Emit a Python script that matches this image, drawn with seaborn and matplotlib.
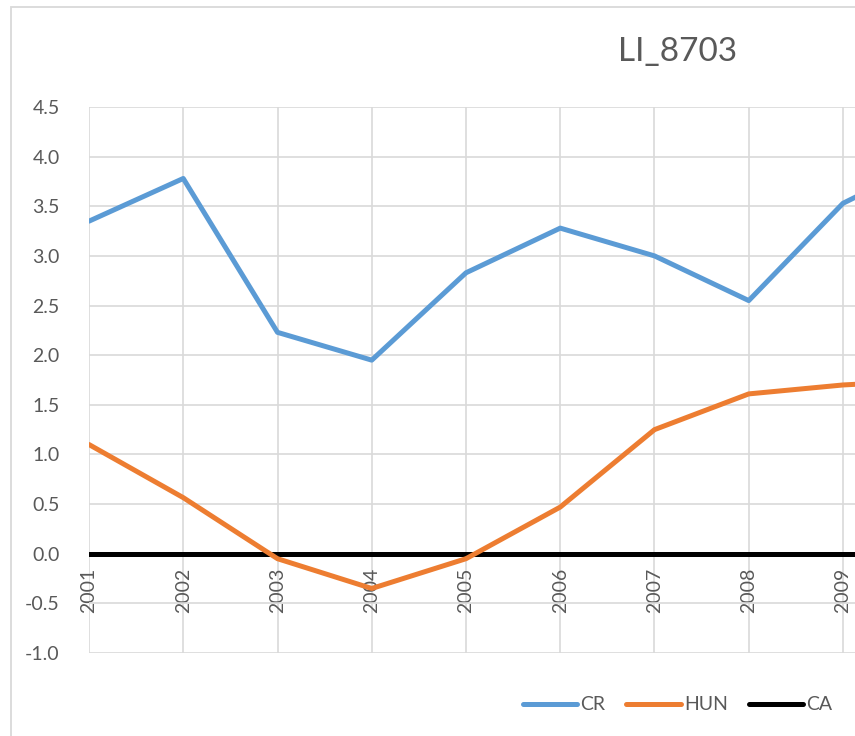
import numpy as np
import pandas as pd
import matplotlib
matplotlib.use("Agg")
import matplotlib.pyplot as plt
import matplotlib.patches as mpatches
from matplotlib.lines import Line2D
import seaborn as sns

# data
YEARS = [2001, 2002, 2003, 2004, 2005, 2006, 2007, 2008, 2009, 2010]
CR = [3.35, 3.78, 2.23, 1.95, 2.83, 3.28, 3.00, 2.55, 3.53, 4.00]
HUN = [1.10, 0.565, -0.05, -0.35, -0.05, 0.47, 1.25, 1.61, 1.70, 1.75]
CA = [0.0, 0.0, 0.0, 0.0, 0.0, 0.0, 0.0, 0.0, 0.0, 0.0]
SERIES = ["CR", "HUN", "CA"]
COLORS = {"CR": "#5B9BD5", "HUN": "#ED7D31", "CA": "#000000"}
TITLE = "LI_8703"

TEXT = "#595959"
GRID = "#D9D9D9"

sns.set_theme(style="white")
plt.rcParams["font.family"] = ["Lato", "DejaVu Sans"]

df = pd.DataFrame({"year": YEARS * 3,
                   "value": CR + HUN + CA,
                   "series": ["CR"] * len(YEARS) + ["HUN"] * len(YEARS) + ["CA"] * len(YEARS)})

fig = plt.figure(figsize=(8.55, 7.36), dpi=100, facecolor="white")
# chart frame (cut off at right/bottom like the reference)
fig.patches.append(mpatches.Rectangle((11 / 855, -0.2), 1.5, 0.2 + 1 - 7 / 736,
                                      transform=fig.transFigure, fill=False,
                                      edgecolor=GRID, linewidth=1.3))

ax = fig.add_axes([89 / 855, 1 - 653 / 736, 1 - 89 / 855, (653 - 107) / 736])

for name, z in [("CA", 2), ("CR", 3), ("HUN", 4)]:
    d = df[df["series"] == name]
    sns.lineplot(data=d, x="year", y="value", ax=ax, color=COLORS[name],
                 linewidth=3.6, zorder=z, legend=False)

yt = np.arange(-1.0, 4.51, 0.5)
ax.set_yticks(yt)
ax.set_yticklabels([f"{v:.1f}" for v in yt])
ax.set_xticks(YEARS)
ax.set_xticklabels([str(y) for y in YEARS])
ax.set_xlim(2001, 2001 + (855 - 89) / 94.25)
ax.set_ylim(-1.0, 4.5)
ax.tick_params(axis="both", length=0, labelsize=14, labelcolor=TEXT)
ax.tick_params(axis="x", pad=10, labelrotation=90)
ax.tick_params(axis="y", pad=21)
ax.spines["bottom"].set_position(("data", 0))
for s in ax.spines.values():
    s.set_visible(False)
ax.grid(True, color=GRID, linewidth=1.2)
ax.set_axisbelow(True)
ax.set_xlabel("")
ax.set_ylabel("")

fig.text(678 / 855, 1 - 52 / 736, TITLE, ha="center", va="center", fontsize=24, color=TEXT)

handles = [Line2D([], [], color=COLORS[n], linewidth=3.6, solid_capstyle="round") for n in SERIES]
fig.legend(handles, SERIES, loc="center right", bbox_to_anchor=(850 / 855, 1 - 705 / 736),
           ncol=3, frameon=False, fontsize=14, labelcolor=TEXT, handlelength=2.8,
           handletextpad=0.15, columnspacing=1.1)

fig.savefig("out.png", dpi=100, facecolor="white")
